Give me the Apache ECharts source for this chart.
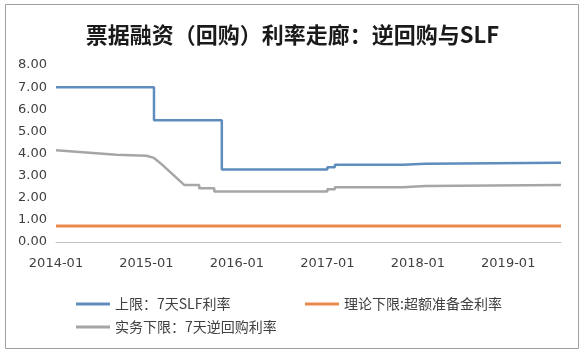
<!DOCTYPE html>
<html>
<head>
<meta charset="utf-8">
<script src="https://cdn.jsdelivr.net/npm/echarts@6/dist/echarts.min.js"></script>
<style>
  html, body { margin: 0; padding: 0; background: #fff; }
  #chart { width: 585px; height: 352px; }
</style>
</head>
<body>
<div id="chart"></div>
<script>
// 月度类目 2014-01 ~ 2019-08
const months = []
for (let y = 2014; y <= 2019; y++) {
  for (let m = 1; m <= 12; m++) {
    if (y === 2019 && m > 8) break
    months.push(y + '-' + (m < 10 ? '0' + m : m))
  }
}

const yTicks = [0, 1, 2, 3, 4, 5, 6, 7, 8]

const seriesNames = ['上限：7天SLF利率', '理论下限:超额准备金利率', '实务下限：7天逆回购利率']

// 上限：7天SLF（阶梯）
const slfRate = [
  ['2014-01', 7.00], ['2015-02', 5.50], ['2015-11', 3.28], ['2017-01', 3.38],
  ['2017-02', 3.49], ['2017-11', 3.54], ['2018-02', 3.58], ['2019-08', 3.58]
]

// 理论下限：超额准备金利率
const excessReserveRate = [['2014-01', 0.72], ['2019-08', 0.72]]

// 实务下限：7天逆回购
const reverseRepoRate = [
  ['2014-01', 4.15], ['2014-09', 3.94], ['2015-01', 3.90], ['2015-02', 3.80],
  ['2015-03', 3.52], ['2015-06', 2.58], ['2015-08', 2.58], ['2015-08', 2.43],
  ['2015-10', 2.43], ['2015-10', 2.28], ['2017-01', 2.28], ['2017-01', 2.38],
  ['2017-02', 2.38], ['2017-02', 2.48], ['2017-11', 2.48], ['2017-11', 2.53],
  ['2018-02', 2.53], ['2018-02', 2.58], ['2019-08', 2.58]
]

const colors = ['#5e8dbd', '#e98a4c', '#a6a6a6']
const textColor = '#404040'

const chart = echarts.init(document.getElementById('chart'))

function legendAt(name, left, top) {
  return {
    data: [name],
    left: left,
    top: top,
    icon: 'rect',
    itemWidth: 34,
    itemHeight: 3,
    selectedMode: false,
    textStyle: { fontSize: 14, color: textColor, fontFamily: 'Noto Sans CJK SC' }
  }
}

const option = {
  animation: false,
  backgroundColor: '#fff',
  title: {
    text: '票据融资（回购）利率走廊：逆回购与SLF',
    left: 'center',
    top: 19,
    textStyle: { fontSize: 22, fontWeight: 'bold', color: '#1a1a1a', fontFamily: 'Noto Sans CJK SC' }
  },
  graphic: [{
    type: 'rect',
    shape: { x: 5.5, y: 4.5, width: 573, height: 344 },
    style: { fill: 'none', stroke: '#a0a0a0', lineWidth: 1 },
    silent: true
  }],
  legend: [
    legendAt(seriesNames[0], 71, 292),
    legendAt(seriesNames[1], 300, 292),
    legendAt(seriesNames[2], 71, 315)
  ],
  grid: { left: 56, right: 24, top: 65, bottom: 110 },
  xAxis: {
    type: 'category',
    data: months,
    boundaryGap: false,
    axisLine: { lineStyle: { color: '#bfbfbf', width: 1 } },
    axisTick: { show: false },
    axisLabel: {
      interval: 11,
      margin: 15,
      fontSize: 13,
      color: textColor,
      fontFamily: 'DejaVu Sans'
    },
    splitLine: { show: false }
  },
  yAxis: {
    type: 'value',
    min: yTicks[0],
    max: yTicks[yTicks.length - 1],
    interval: 1,
    axisLine: { show: false },
    axisTick: { show: false },
    splitLine: { show: false },
    axisLabel: {
      margin: 9,
      fontSize: 13,
      color: textColor,
      fontFamily: 'DejaVu Sans',
      formatter: v => v.toFixed(2)
    }
  },
  series: [
    {
      name: seriesNames[0],
      type: 'line',
      step: 'end',
      data: slfRate,
      showSymbol: false,
      lineStyle: { color: colors[0], width: 2.5 },
      itemStyle: { color: colors[0] }
    },
    {
      name: seriesNames[1],
      type: 'line',
      data: excessReserveRate,
      showSymbol: false,
      lineStyle: { color: colors[1], width: 3 },
      itemStyle: { color: colors[1] }
    },
    {
      name: seriesNames[2],
      type: 'line',
      data: reverseRepoRate,
      showSymbol: false,
      lineStyle: { color: colors[2], width: 2.5 },
      itemStyle: { color: colors[2] }
    }
  ]
}

chart.setOption(option)
</script>
</body>
</html>
